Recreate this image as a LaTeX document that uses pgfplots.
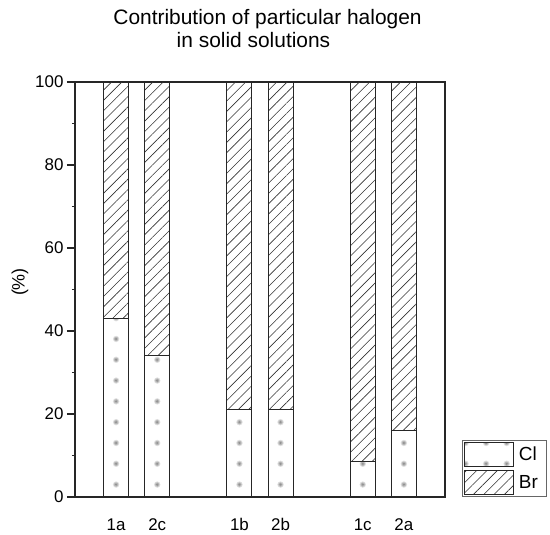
\documentclass[border=0pt]{standalone}
\usepackage{pgfplots}
\pgfplotsset{compat=1.18}
\usepackage{fontspec}
\setmainfont{Liberation Sans}
\usetikzlibrary{patterns,patterns.meta}

\pgfdeclarepatterninherentlycolored{cldots}{\pgfqpoint{9bp}{4bp}}{\pgfqpoint{18bp}{12bp}}{\pgfqpoint{20.5555bp}{20.8bp}}{%
  \pgfsetfillcolor{gray!25}\pgfpathcircle{\pgfqpoint{13.335bp}{8.1bp}}{3.2bp}\pgfusepath{fill}%
  \pgfsetfillcolor{gray!55}\pgfpathcircle{\pgfqpoint{13.335bp}{8.1bp}}{2.2bp}\pgfusepath{fill}%
  \pgfsetfillcolor{gray!85}\pgfpathcircle{\pgfqpoint{13.335bp}{8.1bp}}{1.2bp}\pgfusepath{fill}}

\begin{document}
\begin{tikzpicture}
\path (-75bp,-36bp) rectangle (475bp,497bp);
\begin{axis}[
  at={(0,0)}, anchor=south west,
  scale only axis, width=370bp, height=415bp,
  ybar stacked, bar width=25bp,
  xmin=0, xmax=9, ymin=0, ymax=100,
  xtick={1,2,4,5,7,8}, xticklabels={1a,2c,1b,2b,1c,2a},
  x tick style={draw=none},
  ytick={0,20,40,60,80,100}, minor y tick num=1,
  ytick pos=left,
  tick align=outside,
  major tick length=8bp, minor tick length=3bp,
  axis line style={line width=1.3bp, black!85},
  y tick style={line width=1.3bp, black!85},
  tick label style={font=\fontsize{17}{20}\selectfont},
  /pgf/number format/assume math mode=true,
  xticklabel style={yshift=-10bp},
  ylabel={(\%)},
  ylabel style={at={(axis description cs:-0.149,0.518)}, anchor=center, rotate=0, font=\fontsize{18}{21}\selectfont},
  legend style={at={(1.046,0)}, anchor=south west, draw=black!60, line width=0.8bp,
    font=\fontsize{19}{22}\selectfont, inner sep=1.5bp, row sep=3bp,
    cells={anchor=west}},
]
\addplot[draw=black!85, line width=1bp, pattern=cldots,
  legend image code/.code={\draw[draw=black!85, line width=1bp, pattern=cldots] (0bp,-12bp) rectangle (49bp,12bp);}]
  coordinates {(1,43) (2,34) (4,21) (5,21) (7,8.5) (8,16)};
\addplot[draw=black!85, line width=1bp, pattern={Lines[angle=45,distance=7.3bp,line width=0.6bp]}, pattern color=black!80,
  legend image code/.code={\draw[draw=black!85, line width=1bp, pattern={Lines[angle=45,distance=7.3bp,line width=0.6bp]}, pattern color=black!80] (0bp,-12bp) rectangle (49bp,12bp);}]
  coordinates {(1,57) (2,66) (4,79) (5,79) (7,91.5) (8,84)};
\legend{\kern3bp Cl\kern5bp,\kern3bp Br\kern5bp}
\end{axis}
\node[anchor=base, font=\fontsize{21}{25}\selectfont] at (192.5bp,472bp) {Contribution of particular halogen};
\node[anchor=base, font=\fontsize{21}{25}\selectfont] at (178.5bp,449bp) {in solid solutions};
\end{tikzpicture}
\end{document}
